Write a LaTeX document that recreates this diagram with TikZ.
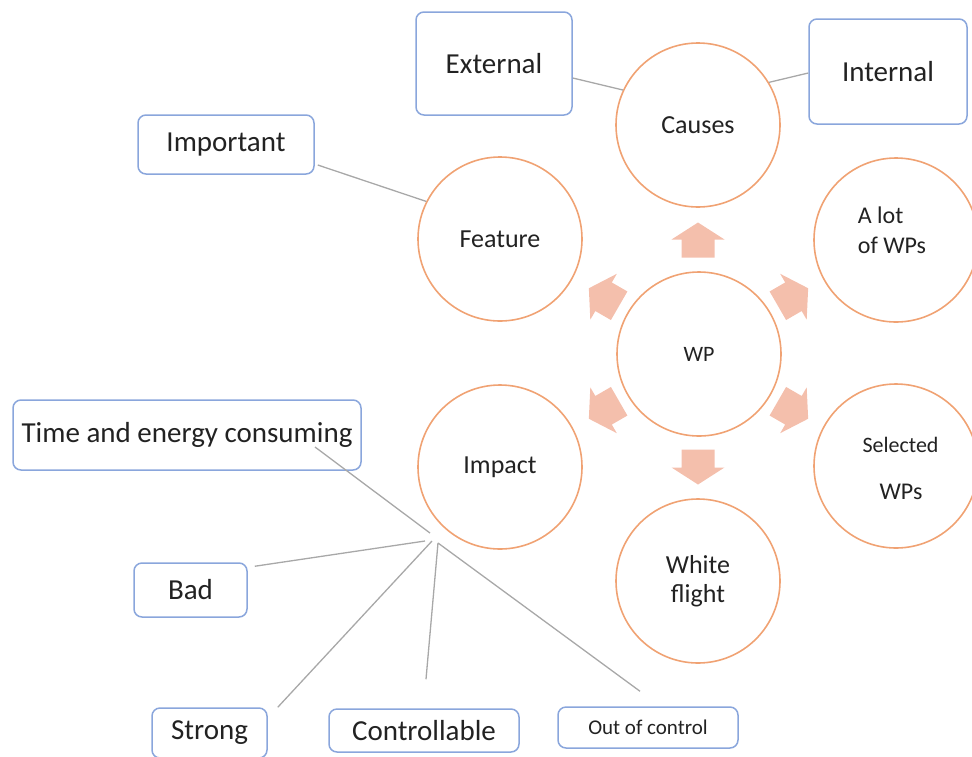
\documentclass[tikz,border=0pt]{standalone}
\usepackage{fontspec}
\setmainfont{Carlito}
\definecolor{circcol}{HTML}{F0A273}
\definecolor{boxcol}{HTML}{8AA6DC}
\definecolor{linkcol}{HTML}{A8A8A8}
\definecolor{arrcol}{HTML}{F4BFAC}
\definecolor{txtcol}{HTML}{222222}
\begin{document}
\begin{tikzpicture}[x=1pt,y=-1pt,
  circ/.style={circle, draw=circcol, line width=1.6pt, minimum size=164pt, inner sep=0pt,
               font=\fontsize{26}{30}\selectfont, text=txtcol},
  ctext/.style={inner sep=0pt, text=txtcol},
  box/.style={draw=boxcol, rounded corners=8pt, line width=1.5pt, inner sep=0pt,
              font=\fontsize{29}{34}\selectfont, text=txtcol},
  link/.style={draw=linkcol, line width=1.3pt},
  blockarr/.pic={\fill[arrcol] (-17.5,-16.5) -- (0.5,-16.5) -- (0.5,-26.5) -- (17.5,0)
                  -- (0.5,26.5) -- (0.5,16.5) -- (-17.5,16.5) -- cycle;}
]
\useasboundingbox (0,0) rectangle (972,756);
\clip (0,0) rectangle (972,756);

% circles
\node[circ] (causes) at (698,125) {Causes};
\node[circ] (feature) at (500,239) {Feature};
\node[circ] (alot) at (896,240) {};
\node[ctext, align=left, font=\fontsize{24}{30}\selectfont] at (892,230) {A lot\\of WPs};
\node[circ, font=\fontsize{22}{26}\selectfont] (wp) at (699,354) {WP};
\node[circ] (impact) at (500,467) {Impact};
\node[circ] (selected) at (896,466) {};
\node[ctext, font=\fontsize{22}{26}\selectfont] at (900.5,445) {Selected};
\node[ctext, font=\fontsize{24}{28}\selectfont] at (901,492) {WPs};
\node[circ, align=center, font=\fontsize{26}{29}\selectfont] (white) at (698,581) {White\\flight};

% block arrows around WP
\pic[rotate=90] at (698,240) {blockarr};
\pic[rotate=-90] at (698,467) {blockarr};
\pic[rotate=150] at (604,297) {blockarr};
\pic[rotate=30] at (793,297) {blockarr};
\pic[rotate=210] at (604,410) {blockarr};
\pic[rotate=-30] at (793,410) {blockarr};

% boxes
\node[box, minimum width=156pt, minimum height=103pt] (ext) at (494,63.5) {External};
\node[box, minimum width=158pt, minimum height=105pt] (int) at (888,71.5) {Internal};
\node[box, minimum width=176pt, minimum height=59pt] (imp) at (226,144.5) {Important};
\node[box, minimum width=348pt, minimum height=70pt] (time) at (187,435) {Time and energy consuming};
\node[box, minimum width=113pt, minimum height=54pt] (bad) at (190.5,590) {Bad};
\node[box, minimum width=115pt, minimum height=50pt] (strong) at (209.5,733) {Strong};
\node[box, minimum width=190pt, minimum height=43pt] (ctrl) at (424,730.5) {Controllable};
\node[box, minimum width=180pt, minimum height=41pt, font=\fontsize{21}{24}\selectfont] (out) at (648,727.5) {Out of control};

% connectors
\coordinate (hub) at (432,541);
\draw[link] ([yshift=-14.5pt]ext.east) -- (causes.155);
\draw[link] ([yshift=-1.5pt]int.west) -- (causes.31);
\draw[link] ([xshift=3pt,yshift=-20.5pt]imp.east) -- (feature.153);
\draw[link] ([xshift=128pt,yshift=-12pt]time.center) -- ([xshift=-2pt,yshift=8pt]hub);
\draw[link] ([xshift=7pt,yshift=-4pt]bad.north east) -- ([xshift=-7pt]hub);
\draw[link] ([xshift=10pt]strong.north east) -- (hub);
\draw[link] ([xshift=2pt,yshift=29pt]ctrl.north) -- ([xshift=6pt,yshift=-2pt]hub);
\draw[link] ([xshift=-8pt,yshift=15pt]out.north) -- ([xshift=6pt,yshift=-2pt]hub);
\end{tikzpicture}
\end{document}
